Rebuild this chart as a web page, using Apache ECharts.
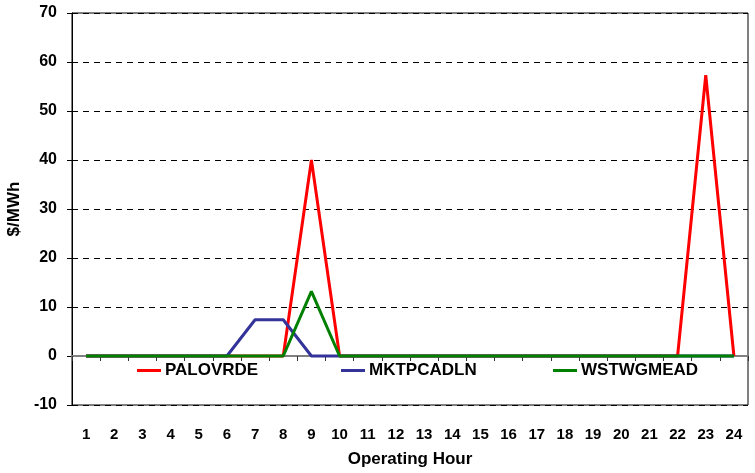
<!DOCTYPE html>
<html>
<head>
<meta charset="utf-8">
<script src="https://cdn.jsdelivr.net/npm/echarts@6/dist/echarts.min.js"></script>
<style>
html, body { margin: 0; padding: 0; background: #fff; }
#chart { width: 755px; height: 473px; }
</style>
</head>
<body>
<div id="chart"></div>
<script>
// operating hours 1..24
var hours = ['1','2','3','4','5','6','7','8','9','10','11','12','13','14','15','16','17','18','19','20','21','22','23','24'];
var palovrde  = [0,0,0,0,0,0,0,0,40,0,0,0,0,0,0,0,0,0,0,0,0,0,57.3,0];
var mktpcadln = [0,0,0,0,0,0,7.4,7.4,0,0,0,0,0,0,0,0,0,0,0,0,0,0,0,0];
var wstwgmead = [0,0,0,0,0,0,0,0,13.2,0,0,0,0,0,0,0,0,0,0,0,0,0,0,0];

var font = 'Liberation Sans, Arial, sans-serif';
var chart = echarts.init(document.getElementById('chart'));

function legendAt(name, x) {
    return {
        data: [name], left: x, top: 357, icon: 'rect',
        itemWidth: 24, itemHeight: 3, itemGap: 4,
        textStyle: {fontFamily: font, fontWeight: 'bold', fontSize: 17, color: '#000', padding: [0, 0, 0, -1]}
    };
}

chart.setOption({
    animation: false,
    grid: {left: 72, right: 7, top: 13, bottom: 68, outerBoundsMode: 'none',
        show: true, borderColor: '#000', borderWidth: 1},
    legend: [legendAt('PALOVRDE', 132), legendAt('MKTPCADLN', 336), legendAt('WSTWGMEAD', 548)],
    xAxis: [{
        // axis drawn on the zero line, no labels
        type: 'category', data: hours,
        axisLine: {onZero: true, lineStyle: {color: '#808080', width: 2}},
        axisTick: {show: true, length: 5, lineStyle: {color: '#333'}},
        axisLabel: {show: false},
        z: 1
    }, {
        type: 'category', data: hours, position: 'bottom',
        axisLine: {show: false, onZero: false},
        axisTick: {show: false},
        axisLabel: {fontFamily: font, fontWeight: 'bold', fontSize: 15, color: '#000', margin: 22},
        name: 'Operating Hour', nameLocation: 'middle', nameGap: 46,
        nameTextStyle: {fontFamily: font, fontWeight: 'bold', fontSize: 17, color: '#000'}
    }],
    yAxis: {
        type: 'value', min: -10, max: 70, interval: 10,
        axisLine: {show: true, lineStyle: {color: '#000'}},
        axisTick: {show: true, length: 5, lineStyle: {color: '#000'}},
        axisLabel: {fontFamily: font, fontWeight: 'bold', fontSize: 16, color: '#000', margin: 15},
        splitLine: {lineStyle: {color: '#000', type: [6, 5]}},
        name: '$/MWh', nameLocation: 'middle', nameGap: 43,
        nameTextStyle: {fontFamily: font, fontWeight: 'bold', fontSize: 17, color: '#000'}
    },
    series: [
        {name: 'PALOVRDE', type: 'line', data: palovrde, symbol: 'none', color: '#ff0000', lineStyle: {width: 3}},
        {name: 'MKTPCADLN', type: 'line', data: mktpcadln, symbol: 'none', color: '#333399', lineStyle: {width: 3}},
        {name: 'WSTWGMEAD', type: 'line', data: wstwgmead, symbol: 'none', color: '#008000', lineStyle: {width: 3}}
    ]
});
</script>
</body>
</html>
